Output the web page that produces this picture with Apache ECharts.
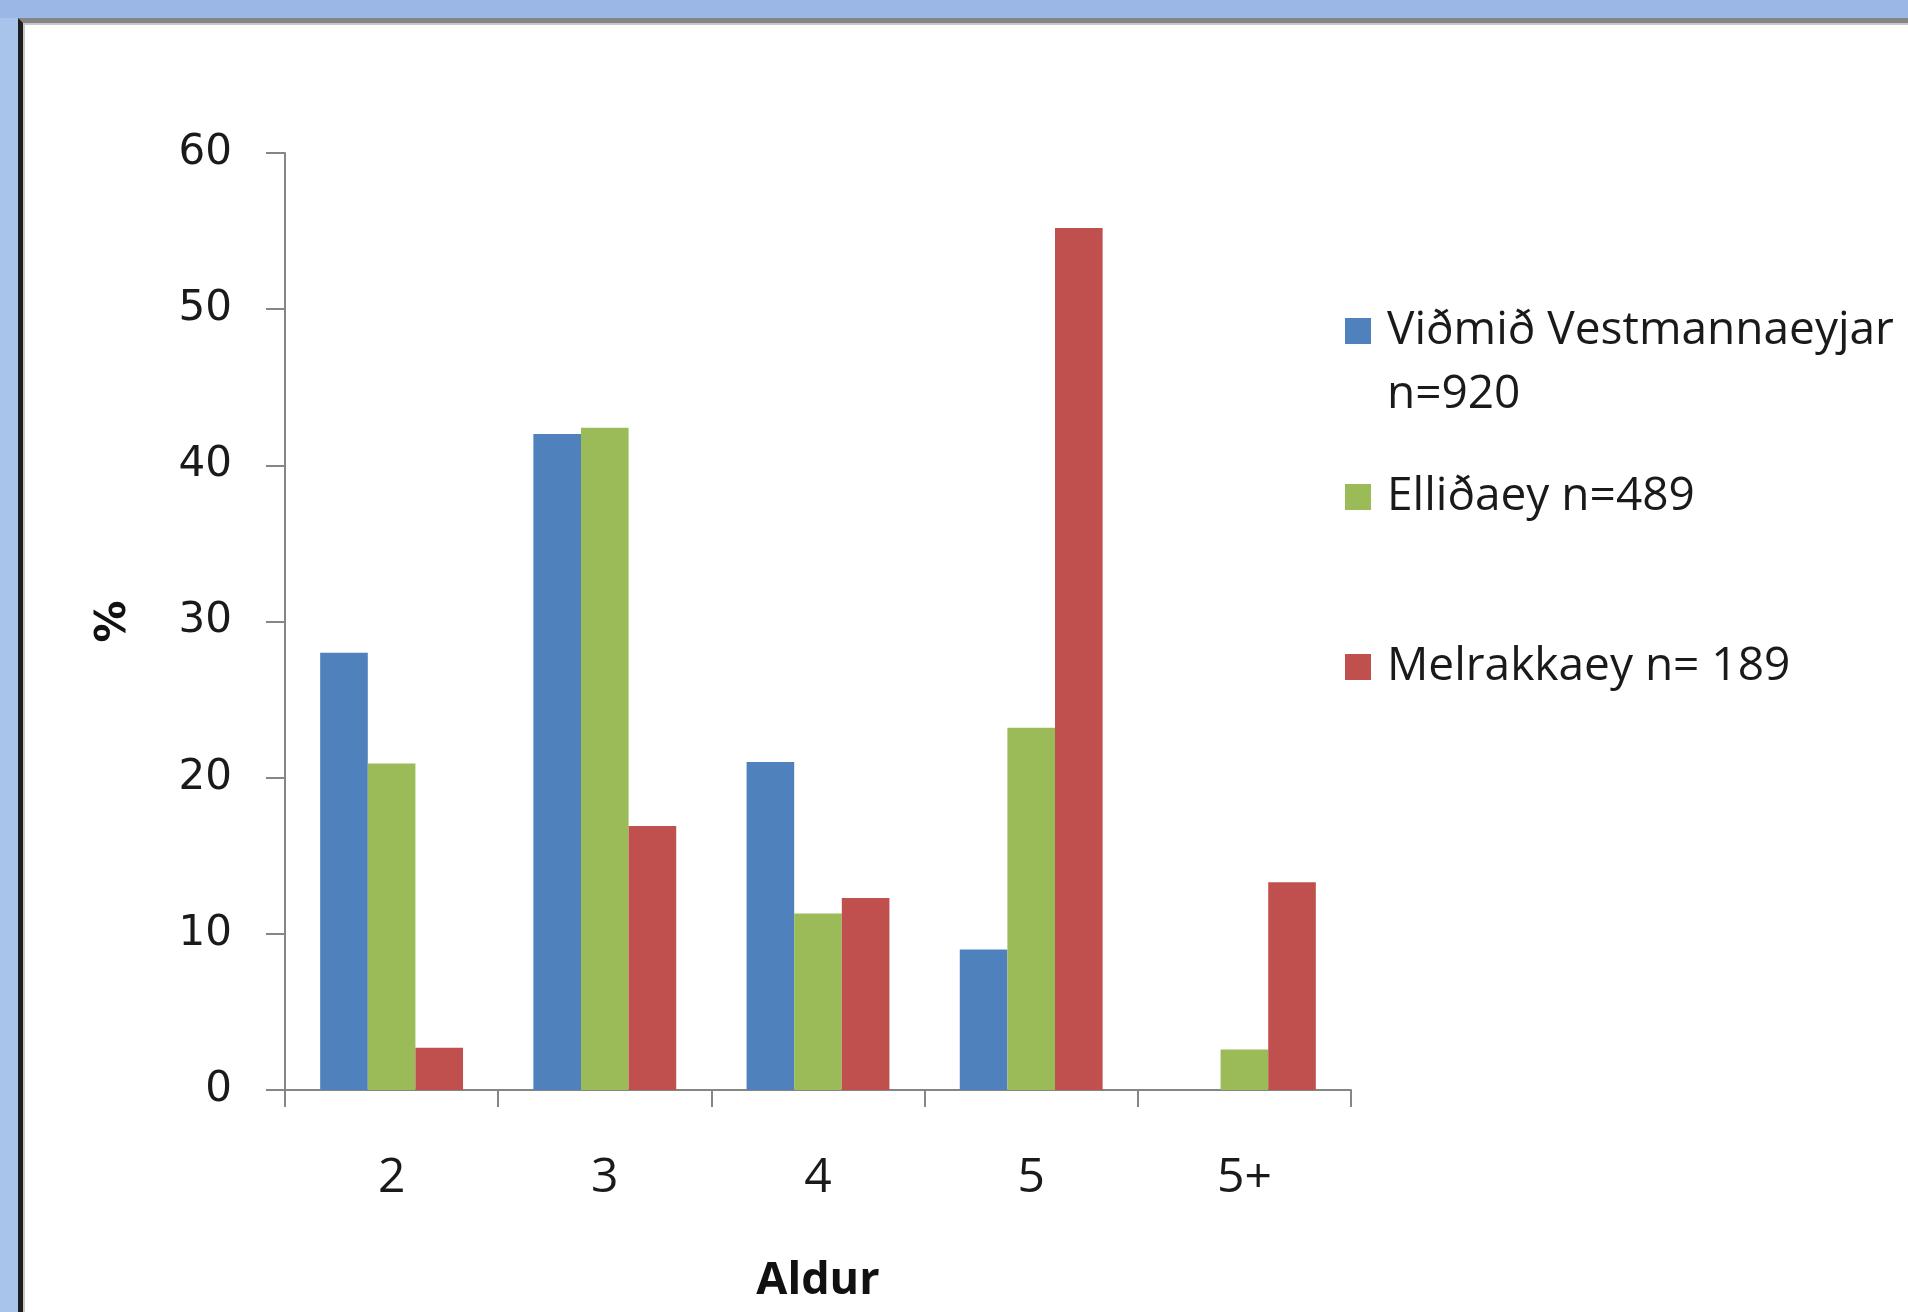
<!DOCTYPE html>
<html>
<head>
<meta charset="utf-8">
<script src="https://cdn.jsdelivr.net/npm/echarts@6/dist/echarts.min.js"></script>
<style>
  html, body { margin: 0; padding: 0; width: 1908px; height: 1312px; overflow: hidden; background: #9bb7e5; }
  #frame { position: absolute; left: 18px; top: 18px; width: 1890px; height: 1294px; background: #ffffff;
           border-top: 5px solid #858585; border-left: 5px solid #1e1e1e; box-sizing: border-box;
           box-shadow: inset 2px 2px 0 #c8c8c8; }
  #leftband { position: absolute; left: 0; top: 18px; width: 18px; height: 1294px; background: #a9c4ea; }
  #chart { position: absolute; left: 0; top: 0; width: 1908px; height: 1312px; }
</style>
</head>
<body>
<div id="leftband"></div>
<div id="frame"></div>
<div id="chart"></div>
<script>
const categories = ['2', '3', '4', '5', '5+'];
const seriesNames = ['Viðmið Vestmannaeyjar\nn=920', 'Elliðaey n=489', 'Melrakkaey n= 189'];
const vestmannaeyjar = [28, 42, 21, 9, 0];
const ellidaey = [20.9, 42.4, 11.3, 23.2, 2.6];
const melrakkaey = [2.7, 16.9, 12.3, 55.2, 13.3];
const colors = ['#4f81bd', '#9bbb59', '#c0504d'];

const chart = echarts.init(document.getElementById('chart'), null, { renderer: 'canvas' });

const legendFont = { fontFamily: 'Open Sans', fontSize: 46, color: '#1a1a1a', lineHeight: 64, padding: [0, 0, 0, 11] };

const option = {
  backgroundColor: 'transparent',
  animation: false,
  color: colors,
  grid: { left: 285, top: 153, width: 1066, height: 937, containLabel: false },
  legend: [
    {
      data: [seriesNames[0]], orient: 'vertical', left: 1345, top: 235, padding: 0,
      itemWidth: 26, itemHeight: 26, icon: 'rect',
      formatter: function (name) { return '\n' + name; },
      textStyle: legendFont
    },
    {
      data: [seriesNames[1]], orient: 'vertical', left: 1345, top: 465, padding: 0,
      itemWidth: 26, itemHeight: 26, icon: 'rect',
      textStyle: legendFont
    },
    {
      data: [seriesNames[2]], orient: 'vertical', left: 1345, top: 635, padding: 0,
      itemWidth: 26, itemHeight: 26, icon: 'rect',
      textStyle: legendFont
    }
  ],
  xAxis: {
    type: 'category',
    data: categories,
    name: 'Aldur',
    nameLocation: 'middle',
    nameGap: 169,
    nameTextStyle: { fontFamily: 'Open Sans', fontWeight: 'bold', fontSize: 45, color: '#111' },
    axisLine: { lineStyle: { color: '#868686', width: 2 } },
    axisTick: { show: true, length: 17, alignWithLabel: false, lineStyle: { color: '#868686', width: 2 } },
    axisLabel: { margin: 64, fontFamily: "'Liberation Sans Narrow', 'Open Sans'", fontSize: 48, color: '#1a1a1a' },
    splitLine: { show: false }
  },
  yAxis: {
    type: 'value',
    min: 0, max: 60, interval: 10,
    name: '%',
    nameLocation: 'middle',
    nameRotate: 90,
    nameGap: 150,
    nameTextStyle: { fontFamily: 'DejaVu Sans', fontWeight: 'bold', fontSize: 42, color: '#111' },
    axisLine: { show: true, lineStyle: { color: '#868686', width: 2 } },
    axisTick: { show: true, length: 19, lineStyle: { color: '#868686', width: 2 } },
    axisLabel: { margin: 53, fontFamily: 'DejaVu Sans', fontSize: 42, color: '#1a1a1a', padding: [7, 0, 0, 0] },
    splitLine: { show: false }
  },
  series: [
    { name: seriesNames[0], type: 'bar', data: vestmannaeyjar, barGap: '0%', barCategoryGap: '33%', itemStyle: { color: colors[0] } },
    { name: seriesNames[1], type: 'bar', data: ellidaey, barGap: '0%', barCategoryGap: '33%', itemStyle: { color: colors[1] } },
    { name: seriesNames[2], type: 'bar', data: melrakkaey, barGap: '0%', barCategoryGap: '33%', itemStyle: { color: colors[2] } }
  ]
};
chart.setOption(option);
</script>
</body>
</html>
